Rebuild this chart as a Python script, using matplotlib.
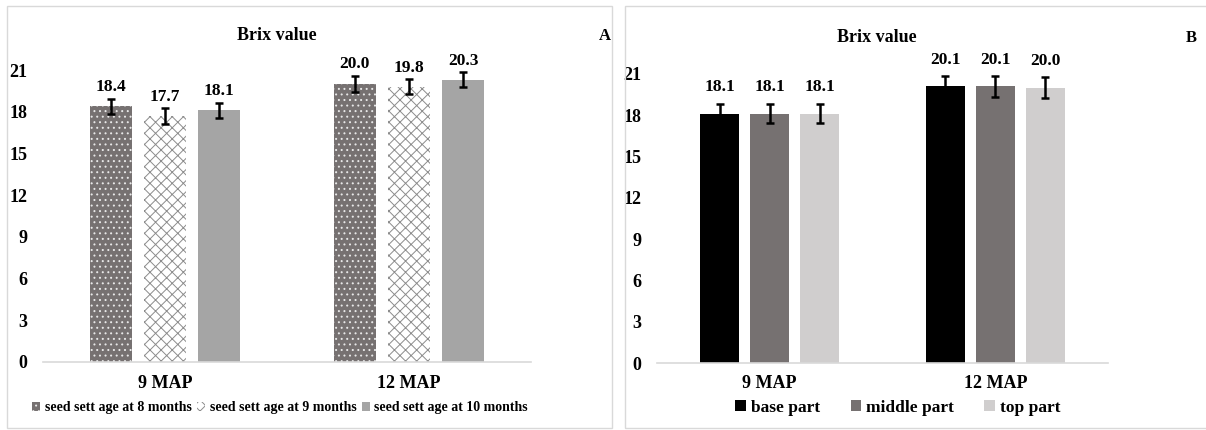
import matplotlib
matplotlib.use("Agg")
import matplotlib.pyplot as plt
from matplotlib.patches import Rectangle, Patch

plt.rcParams['font.family'] = ['Liberation Serif', 'DejaVu Serif']
plt.rcParams['font.weight'] = 'bold'
plt.rcParams['hatch.linewidth'] = 0.7

categories = ["9 MAP", "12 MAP"]
yticks = [0, 3, 6, 9, 12, 15, 18, 21]

series_a = ["seed sett age at 8 months", "seed sett age at 9 months", "seed sett age at 10 months"]
values_a = [[18.4, 20.0], [17.7, 19.8], [18.1, 20.3]]
errors_a = [[0.55, 0.6], [0.55, 0.55], [0.55, 0.55]]

series_b = ["base part", "middle part", "top part"]
values_b = [[18.1, 20.1], [18.1, 20.1], [18.1, 20.0]]
errors_b = [[0.7, 0.75], [0.7, 0.75], [0.7, 0.75]]

W, H = 1206, 430
fig = plt.figure(figsize=(W / 100, H / 100), dpi=100)

def px(l, r, b, t):
    return [l / W, 1 - b / H, (r - l) / W, (b - t) / H]

# panel borders
fig.patches.append(Rectangle((7 / W, 2 / H), (612 - 7) / W, (424 - 2) / H, transform=fig.transFigure,
                             fill=False, edgecolor='#d9d9d9', lw=1.0))
fig.patches.append(Rectangle((625 / W, 2 / H), (1210 - 625) / W, (424 - 2) / H, transform=fig.transFigure,
                             fill=False, edgecolor='#d9d9d9', lw=1.0))

def style_axis(ax):
    for s in ['top', 'right', 'left']:
        ax.spines[s].set_visible(False)
    ax.spines['bottom'].set_color('#d9d9d9')
    ax.spines['bottom'].set_linewidth(1.2)
    ax.set_ylim(0, 23)
    ax.set_yticks(yticks)
    ax.set_xlim(-0.5, 1.5)
    ax.set_xticks([0, 1])
    ax.set_xticklabels(categories, fontsize=13, fontweight='bold')
    ax.tick_params(axis='both', length=0, labelsize=13)
    ax.tick_params(axis='y', pad=11)
    ax.tick_params(axis='x', pad=9)
    for lab in ax.get_yticklabels():
        lab.set_fontweight('bold')

# ---- Panel A ----
axA = fig.add_axes(px(43, 531, 362, 362 - 23 * 13.9))
bw = 0.172
step = 0.222
styles_a = [dict(color='#767171', hatch='...', edgecolor='#e8e8e8'),
            dict(color='white', hatch='xxx', edgecolor='#8c8c8c'),
            dict(color='#a5a5a5', hatch=None, edgecolor='#a5a5a5')]
xs = [0, 1]
handles_a = []
for i, (name, vals, errs) in enumerate(zip(series_a, values_a, errors_a)):
    pos = [x + (i - 1) * step for x in xs]
    st = styles_a[i]
    axA.bar(pos, vals, width=bw, color=st['color'], hatch=st['hatch'],
            edgecolor=st['edgecolor'], linewidth=0, label=name)
    axA.errorbar(pos, vals, yerr=errs, fmt='none', ecolor='black', elinewidth=1.8,
                 capsize=3, capthick=1.8)
    for p, v, e in zip(pos, vals, errs):
        axA.text(p, v + e + 0.25, f"{v:.1f}", ha='center', va='bottom', fontsize=12.5, fontweight='bold')
    handles_a.append(Patch(facecolor=st['color'], hatch=st['hatch'], edgecolor=st['edgecolor'], lw=0))
style_axis(axA)
fig.text(277 / W, 1 - 35 / H, "Brix value", ha='center', va='center', fontsize=13, fontweight='bold')
fig.text(605 / W, 1 - 36 / H, "A", ha='center', va='center', fontsize=12, fontweight='bold')
fig.legend(handles_a, series_a, loc='center', bbox_to_anchor=(280 / W, 1 - 408 / H), ncol=3,
           frameon=False, prop={'size': 10, 'weight': 'bold'}, handlelength=0.6, handleheight=0.6,
           handletextpad=0.3, columnspacing=0.4, borderpad=0)

# ---- Panel B ----
axB = fig.add_axes(px(657, 1108, 363, 363 - 23 * 13.77))
bwb = 0.172
stepb = 0.222
colors_b = ['#000000', '#767171', '#d0cece']
handles_b = []
for i, (name, vals, errs) in enumerate(zip(series_b, values_b, errors_b)):
    pos = [x + (i - 1) * stepb for x in xs]
    axB.bar(pos, vals, width=bwb, color=colors_b[i], linewidth=0, label=name)
    axB.errorbar(pos, vals, yerr=errs, fmt='none', ecolor='black', elinewidth=1.8,
                 capsize=3, capthick=1.8)
    for p, v in zip(pos, vals):
        axB.text(p, v + 1.35, f"{v:.1f}", ha='center', va='bottom', fontsize=12.5, fontweight='bold')
    handles_b.append(Patch(facecolor=colors_b[i], lw=0))
style_axis(axB)
fig.text(877 / W, 1 - 37 / H, "Brix value", ha='center', va='center', fontsize=13, fontweight='bold')
fig.text(1191 / W, 1 - 38 / H, "B", ha='center', va='center', fontsize=12, fontweight='bold')
fig.legend(handles_b, series_b, loc='center', bbox_to_anchor=(898 / W, 1 - 408 / H), ncol=3,
           frameon=False, prop={'size': 12.5, 'weight': 'bold'}, handlelength=0.6, handleheight=0.6,
           handletextpad=0.3, columnspacing=1.75, borderpad=0)

fig.savefig("out.png", dpi=100)
